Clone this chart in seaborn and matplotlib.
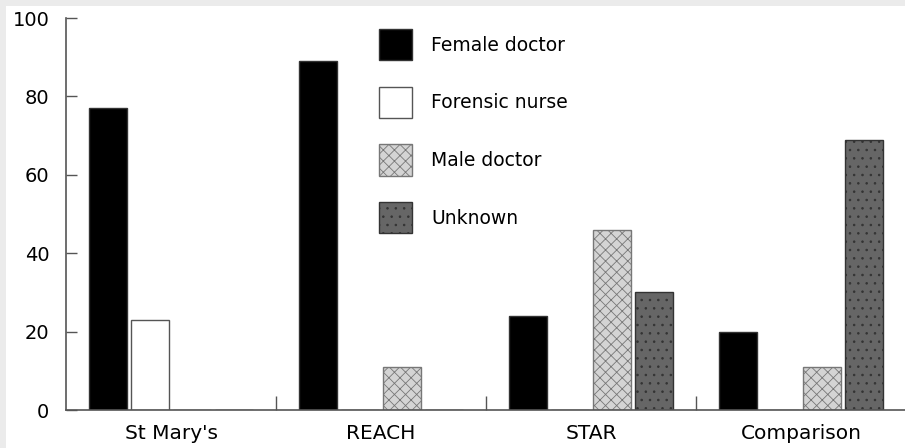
import numpy as np
import pandas as pd
import matplotlib
matplotlib.use('Agg')
import matplotlib.pyplot as plt
import matplotlib.patches as mpatches
import seaborn as sns

# data (percent)
sites = ["St Mary's", "REACH", "STAR", "Comparison"]
roles = ["Female doctor", "Forensic nurse", "Male doctor", "Unknown"]
female_doctor = [77, 89, 24, 20]
forensic_nurse = [23, 0, 0, 0]
male_doctor = [0, 11, 46, 11]
unknown = [0, 0, 30, 69]
y_ticks = [0, 20, 40, 60, 80, 100]

df = pd.DataFrame({
    'site': sites * 4,
    'role': np.repeat(roles, 4),
    'pct': female_doctor + forensic_nurse + male_doctor + unknown,
})

sns.set_style('white')
plt.rcParams['font.family'] = ['DejaVu Sans']
plt.rcParams['hatch.linewidth'] = 0.6

fills = {'Female doctor': '#000000', 'Forensic nurse': '#ffffff',
         'Male doctor': '#d4d4d4', 'Unknown': '#666666'}
hatches = {'Female doctor': '', 'Forensic nurse': '', 'Male doctor': 'xxx', 'Unknown': '..'}
edges = {'Female doctor': '#333333', 'Forensic nurse': '#555555',
         'Male doctor': '#777777', 'Unknown': '#333333'}

fig = plt.figure(figsize=(9.05, 4.48), dpi=100)
fig.patch.set_facecolor('#ebebeb')
fig.patches.append(mpatches.Rectangle((6 / 905, 0), 1, 442 / 448, transform=fig.transFigure,
                                      facecolor='white', edgecolor='none', zorder=-5))
ax = fig.add_axes([66 / 905, 38 / 448, 840 / 905, 392 / 448])
ax.set_facecolor('none')

sns.barplot(data=df, x='site', y='pct', hue='role', hue_order=roles, palette=fills,
            width=0.8, gap=0.1, ax=ax, legend=False, linewidth=1)

for cont, role in zip(ax.containers, roles):
    for bar in cont:
        bar.set_hatch(hatches[role])
        bar.set_edgecolor(edges[role])

ax.set_xlim(-0.5, 3.5)
ax.set_ylim(0, 100)
ax.set_yticks(y_ticks)
ax.set_xlabel('')
ax.set_ylabel('')
ax.tick_params(axis='y', left=True, direction='in', length=8, width=1, color='#555555',
               labelsize=14, labelcolor='black', pad=12)
ax.tick_params(axis='x', which='major', bottom=True, length=0, labelsize=14.5,
               labelcolor='black', pad=10)
ax.set_xticks([0.5, 1.5, 2.5], minor=True)
ax.tick_params(axis='x', which='minor', bottom=True, direction='in', length=10, width=1,
               color='#555555')
for s in ['top', 'right']:
    ax.spines[s].set_visible(False)
for s in ['left', 'bottom']:
    ax.spines[s].set_color('#555555')
    ax.spines[s].set_linewidth(1.2)
ax.spines['left'].set_bounds(0, 100)

handles = [mpatches.Patch(facecolor=fills[r], edgecolor=edges[r], hatch=hatches[r]) for r in roles]
leg = ax.legend(handles, roles, loc='upper left', bbox_to_anchor=(0.352, 1.015), frameon=False,
                fontsize=13.5, handlelength=1.8, handleheight=2.2, labelspacing=1.4,
                handletextpad=1.0)
for t in leg.get_texts():
    t.set_color('black')

fig.savefig('out.png', dpi=100, facecolor=fig.get_facecolor())
